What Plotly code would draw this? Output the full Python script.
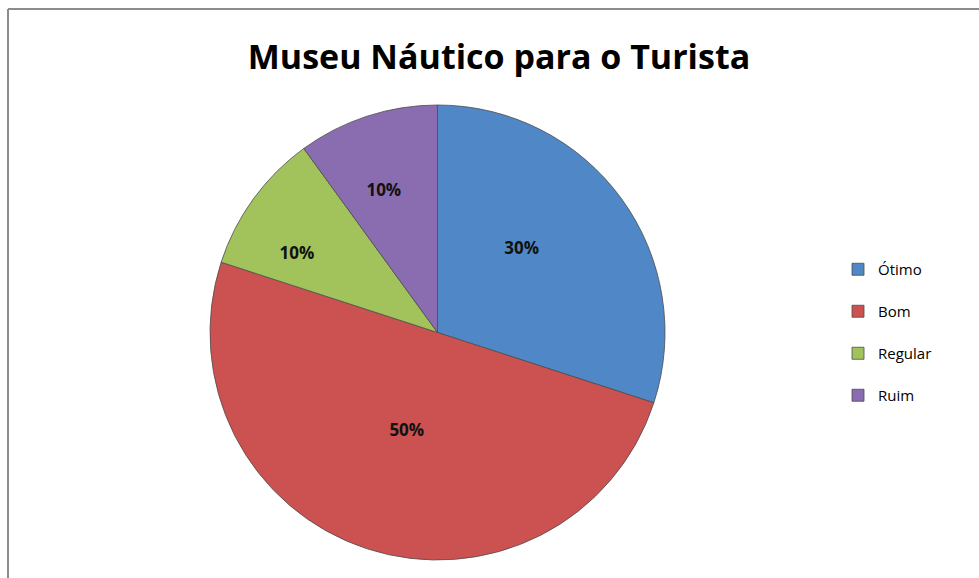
import plotly.graph_objects as go

categories = ["Ótimo", "Bom", "Regular", "Ruim"]
values = [30, 50, 10, 10]
colors = ["#5087C7", "#CB5250", "#A2C35B", "#8A6CB0"]
title_text = "Museu Náutico para o Turista"

W, H = 979, 578
cx, cy, r = 437.5, 332.5, 227.5

legend_labels = [c + "<br> " for c in categories]
pct = "<b>%{percent:.0%}</b>"
pad = "&nbsp;" * 8
label_templates = [pct + pad + "<br> ", "&nbsp;&nbsp;" + pct + "<br> ", " <br> <br>" + pct, " <br> <br>" + pct]

fig = go.Figure(go.Pie(
    labels=legend_labels,
    values=values,
    sort=False,
    direction="clockwise",
    rotation=0,
    marker=dict(colors=colors, line=dict(color="#4d4d4d", width=0.8)),
    texttemplate=label_templates,
    textposition="inside",
    insidetextorientation="horizontal",
    textfont=dict(family="Open Sans", size=17, color="#111111"),
    domain=dict(x=[(cx - r) / W, (cx + r) / W], y=[(H - cy - r) / H, (H - cy + r) / H]),
    hovertemplate="%{customdata}: %{percent}<extra></extra>",
    customdata=categories,
))

fig.update_layout(
    width=W, height=H,
    margin=dict(l=0, r=0, t=0, b=0),
    paper_bgcolor="white",
    title=dict(text="<b>" + title_text + "</b>", x=499 / W, xanchor="center", y=1 - 57 / H, yanchor="middle",
               font=dict(family="Open Sans", size=34, color="#000000")),
    legend=dict(x=838 / W, y=1 - 253 / H, xanchor="left", yanchor="top", valign="top",
                font=dict(family="Open Sans", size=15, color="#000000"), itemwidth=30),
    shapes=[
        dict(type="line", xref="paper", yref="paper", x0=8 / W, x1=1, y0=1 - 9 / H, y1=1 - 9 / H,
             line=dict(color="#8c8c8c", width=2)),
        dict(type="line", xref="paper", yref="paper", x0=8 / W, x1=8 / W, y0=0, y1=1 - 9 / H,
             line=dict(color="#8c8c8c", width=2)),
    ],
)

fig.write_html("out.html", config={"displayModeBar": False},
               post_script="document.body.style.margin='0';document.body.style.overflow='hidden';")
